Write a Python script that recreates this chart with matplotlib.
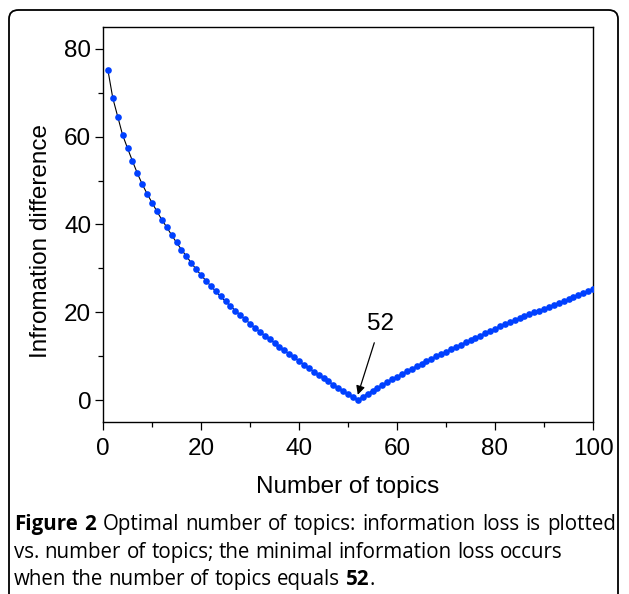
import matplotlib
matplotlib.use("Agg")
import matplotlib.pyplot as plt
from matplotlib.patches import FancyBboxPatch
from matplotlib.ticker import MultipleLocator

# topics 1..100 and the info difference
topics = list(range(1, 101))
info_diff = [
    75.2, 68.8, 64.6, 60.4, 57.4, 54.5, 51.7, 49.2, 47.0, 45.0,
    43.0, 41.1, 39.4, 37.6, 35.9, 34.3, 32.8, 31.3, 29.8, 28.5,
    27.2, 26.0, 24.8, 23.6, 22.5, 21.4, 20.4, 19.4, 18.4, 17.4,
    16.5, 15.6, 14.7, 13.9, 13.0, 12.2, 11.3, 10.5, 9.7, 8.9,
    8.1, 7.3, 6.5, 5.8, 5.0, 4.3, 3.5, 2.8, 2.1, 1.4,
    0.7, 0.0, 0.75, 1.45, 2.15, 2.8, 3.45, 4.1, 4.75, 5.35,
    5.95, 6.55, 7.15, 7.7, 8.3, 8.85, 9.4, 9.95, 10.5, 11.05,
    11.6, 12.1, 12.65, 13.15, 13.7, 14.2, 14.7, 15.2, 15.7, 16.3,
    16.8, 17.25, 17.7, 18.15, 18.6, 19.05, 19.5, 19.95, 20.4, 20.85,
    21.3, 21.75, 22.2, 22.6, 23.05, 23.5, 23.9, 24.35, 24.75, 25.3,
]
min_topic = 52
min_value = 0.0

W, H = 629, 594
fig = plt.figure(figsize=(W / 100, H / 100), dpi=100)
plt.rcParams["font.family"] = ["Liberation Sans", "DejaVu Sans"]

# rounded frame around the whole figure panel
frame = FancyBboxPatch((9 / W, -0.05), (W - 11) / W - 9 / W, 1.05 - 10 / H,
                       boxstyle="round,pad=0,rounding_size=0.015",
                       transform=fig.transFigure, fill=False,
                       edgecolor="black", linewidth=1.3)
fig.patches.append(frame)

ax = fig.add_axes([103 / W, 1 - 422 / H, (593 - 103) / W, (422 - 27) / H])
ax.plot(topics, info_diff, color="black", linewidth=0.8, zorder=2)
ax.plot(topics, info_diff, linestyle="none", marker="o", markersize=4.8,
        color="#0040ff", markeredgewidth=0, zorder=3)

ax.set_xlim(0, 100)
ax.set_ylim(-5, 85)
ax.xaxis.set_major_locator(MultipleLocator(20))
ax.xaxis.set_minor_locator(MultipleLocator(10))
ax.yaxis.set_major_locator(MultipleLocator(20))
ax.yaxis.set_minor_locator(MultipleLocator(10))
ax.tick_params(which="major", direction="out", length=5.5, width=0.9, labelsize=17.5)
ax.tick_params(which="minor", direction="out", length=3.5, width=0.9)
ax.tick_params(axis="x", which="major", pad=6)
ax.tick_params(axis="y", which="major", pad=3)
for s in ax.spines.values():
    s.set_linewidth(1.0)

ax.annotate(str(min_topic), xy=(min_topic, min_value + 1.2), xytext=(56.6, 17.4),
            fontsize=17.5, ha="center", va="center",
            arrowprops=dict(arrowstyle="-|>", color="black", lw=0.9,
                            shrinkA=4, shrinkB=0, mutation_scale=13))

fig.text(348 / W, 1 - 487 / H, "Number of topics", fontsize=17.5, ha="center", va="center")
fig.text(41 / W, 1 - 241 / H, "Infromation difference", fontsize=17.5,
         rotation=90, ha="center", va="center")

# caption with bold parts
cap_font = ["Open Sans", "DejaVu Sans"]
cap_size = 14.8
renderer = fig.canvas.get_renderer()


def put_runs(base_px, runs, x_px=14, justify_to=None):
    # one text per word, all on the same baseline
    words = []
    for txt, weight in runs:
        for w in txt.split(" "):
            if w:
                words.append((w, weight))
    texts = []
    widths = []
    for w, weight in words:
        t = fig.text(0, 1 - base_px / H, w, fontsize=cap_size, family=cap_font,
                     fontweight=weight, ha="left", va="baseline")
        texts.append(t)
        widths.append(t.get_window_extent(renderer=renderer).width)
    sp = fig.text(0, 0, "a a", fontsize=cap_size, family=cap_font)
    sp2 = fig.text(0, 0, "aa", fontsize=cap_size, family=cap_font)
    sp_w = sp.get_window_extent(renderer=renderer).width - sp2.get_window_extent(renderer=renderer).width
    sp.remove()
    sp2.remove()
    gaps = [sp_w] * (len(words) - 1)
    if justify_to is not None:
        gap = (justify_to - x_px - sum(widths)) / (len(words) - 1)
        gaps = [max(gap, 0.8 * sp_w)] * (len(words) - 1)
    x = x_px
    for i, t in enumerate(texts):
        if i > 0 and words[i][0] == ".":
            x -= gaps[i - 1]
        t.set_x(x / W)
        x += widths[i]
        if i < len(gaps):
            x += gaps[i]


put_runs(530, [("Figure 2", "bold"),
               (" Optimal number of topics: information loss is plotted", "normal")],
         justify_to=616)
put_runs(558, [("vs. number of topics; the minimal information loss occurs", "normal")])
put_runs(585, [("when the number of topics equals ", "normal"), ("52", "bold"), (" .", "normal")])

fig.savefig("out.png", dpi=100)
